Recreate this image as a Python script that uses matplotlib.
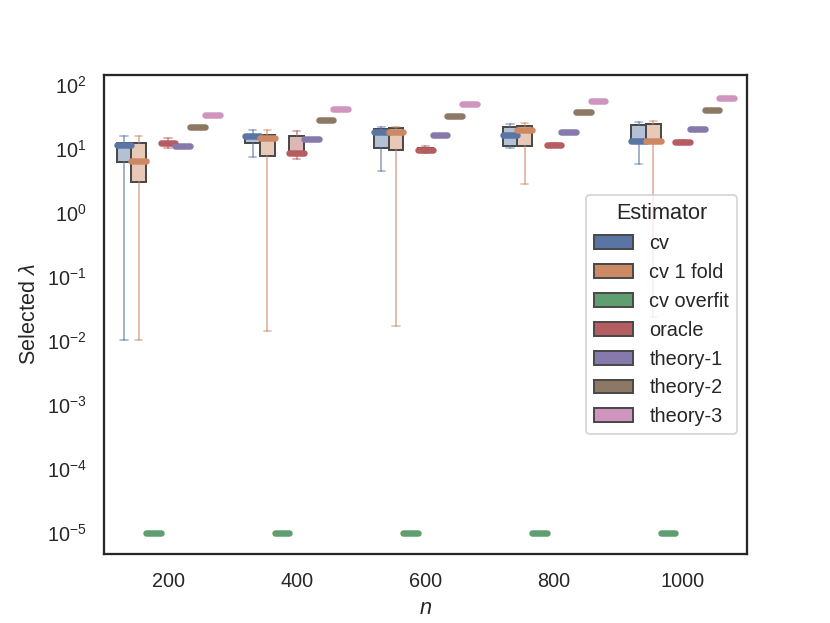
import matplotlib
matplotlib.use("Agg")
import matplotlib.pyplot as plt
import matplotlib.patches as mpatches
import seaborn as sns
import numpy as np

sns.set_theme(style="white", context="notebook")
plt.rcParams['font.family'] = ['Liberation Sans', 'DejaVu Sans']
plt.rcParams['mathtext.fontset'] = 'custom'
plt.rcParams['mathtext.rm'] = 'Liberation Sans'
plt.rcParams['mathtext.it'] = 'Liberation Sans:italic'
plt.rcParams['mathtext.bf'] = 'Liberation Sans:bold'

n_values = ["200", "400", "600", "800", "1000"]
estimators = ["cv", "cv 1 fold", "cv overfit", "oracle", "theory-1", "theory-2", "theory-3"]

# summary stats per estimator: lower whisker, Q1, median, Q3, upper whisker (one value per n)
cv_low = [0.0102, 7.5, 4.5, 10.4, 5.8]
cv_q1 = [6.2, 12.6, 10.2, 11.2, 12.2]
cv_med = [11.5, 15.9, 18.5, 16.6, 13.1]
cv_q3 = [12.5, 16.8, 20.4, 22.1, 24.1]
cv_high = [16.0, 19.9, 21.7, 24.4, 26.5]

cv1_low = [0.0103, 0.0145, 0.017, 2.8, 0.024]
cv1_q1 = [3.07, 7.7, 9.6, 11.2, 12.2]
cv1_med = [6.5, 14.9, 18.4, 20.1, 13.1]
cv1_q3 = [12.5, 16.5, 21.0, 22.7, 24.4]
cv1_high = [16.0, 20.1, 21.7, 25.6, 27.4]

overfit_val = [1e-5, 1e-5, 1e-5, 1e-5, 1e-5]

oracle_low = [10.2, 6.9, 8.6, 10.8, 12.2]
oracle_q1 = [11.5, 8.4, 9.3, 11.1, 12.5]
oracle_med = [12.2, 8.8, 9.8, 11.5, 12.9]
oracle_q3 = [12.8, 15.9, 10.4, 11.9, 13.3]
oracle_high = [14.9, 18.8, 11.2, 12.3, 13.6]

theory1_val = [11.2, 14.1, 16.6, 18.5, 20.6]
theory2_val = [22.4, 28.1, 33.3, 37.5, 41.3]
theory3_val = [33.7, 42.7, 50.0, 56.3, 62.0]

stats_by_est = {
    "cv": (cv_low, cv_q1, cv_med, cv_q3, cv_high),
    "cv 1 fold": (cv1_low, cv1_q1, cv1_med, cv1_q3, cv1_high),
    "cv overfit": (overfit_val,) * 5,
    "oracle": (oracle_low, oracle_q1, oracle_med, oracle_q3, oracle_high),
    "theory-1": (theory1_val,) * 5,
    "theory-2": (theory2_val,) * 5,
    "theory-3": (theory3_val,) * 5,
}

palette = [sns.desaturate(c, 0.75) for c in sns.color_palette("deep", 7)]

fig, ax = plt.subplots(figsize=(830 / 130, 623 / 130), dpi=130)
fig.subplots_adjust(left=0.125, right=0.9, top=0.88, bottom=0.11)

k = len(estimators)
w = 0.8 / k
edge = "#4a4a4a"
for j, est in enumerate(estimators):
    color = palette[j]
    lo, q1, med, q3, hi = stats_by_est[est]
    bstats = []
    for i in range(len(n_values)):
        bstats.append(dict(whislo=lo[i], q1=q1[i], med=med[i], q3=q3[i], whishi=hi[i], fliers=[]))
    pos = np.arange(len(n_values)) - 0.4 + w * (j + 0.5)
    ax.bxp(bstats, positions=pos, widths=w, patch_artist=True, showfliers=False,
           capwidths=w * 0.5,
           boxprops=dict(facecolor=(*color, 0.45), edgecolor=edge, linewidth=1.1),
           whiskerprops=dict(color=color, alpha=0.6, linewidth=1.0),
           capprops=dict(color=color, alpha=0.5, linewidth=1.0),
           medianprops=dict(color=color, linewidth=3.6, solid_capstyle="round"),
           manage_ticks=False)

ax.set_yscale("log")
ax.set_ylim(10 ** -5.34, 10 ** 2.16)
ax.set_xlim(-0.5, len(n_values) - 0.5)
ax.set_xticks(np.arange(len(n_values)))
ax.set_xticklabels(n_values)
ax.tick_params(axis="both", which="both", left=False, bottom=False)
ax.yaxis.set_minor_locator(matplotlib.ticker.NullLocator())
for s in ax.spines.values():
    s.set_color("#262626")
    s.set_linewidth(1.25)

ax.set_xlabel("$n$")
ax.set_ylabel(r"Selected $\lambda$")

handles = [mpatches.Patch(facecolor=palette[j], edgecolor=edge, linewidth=1.1, label=est)
           for j, est in enumerate(estimators)]
ax.legend(handles=handles, title="Estimator", loc="center right")

fig.savefig("out.png", dpi=130)
